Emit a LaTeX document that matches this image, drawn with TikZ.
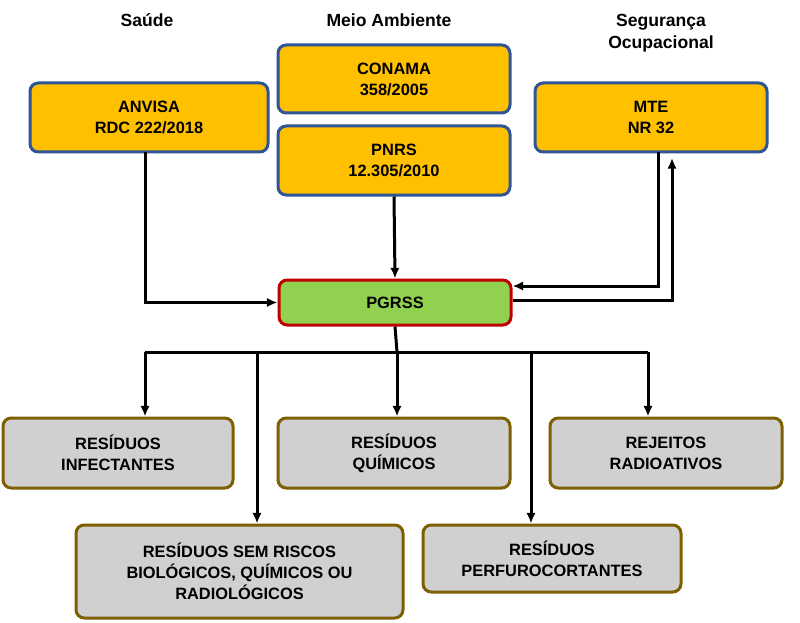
\documentclass[tikz,border=0pt]{standalone}
\usepackage{fontspec}
\setmainfont{Liberation Sans}
\usetikzlibrary{arrows.meta}
\definecolor{ouro}{HTML}{FFC000}
\definecolor{azul}{HTML}{2F5597}
\definecolor{verde}{HTML}{92D050}
\definecolor{vermelho}{HTML}{C00000}
\definecolor{cinza}{HTML}{D0D0D0}
\definecolor{oliva}{HTML}{7F6000}
\tikzset{
  base/.style={rounded corners=7pt,line width=0.9mm,align=center,font=\fontsize{14}{18}\selectfont\bfseries,inner sep=0pt},
  lei/.style={base,draw=azul,fill=ouro},
  plano/.style={base,draw=vermelho,fill=verde},
  tipo/.style={base,draw=oliva,fill=cinza},
  seta/.style={line width=0.9mm,-{Latex[length=3.2mm,width=2.8mm]}},
  linha/.style={line width=0.9mm},
  titulo/.style={font=\fontsize{15}{19}\selectfont\bfseries,align=center}
}
\begin{document}
\begin{tikzpicture}[x=0.3mm,y=-0.3mm]
  \useasboundingbox (0,0) rectangle (800,623);

  % titulos
  \node[titulo] (tsaude) at (147,20) {Saúde};
  \node[titulo] (tmeio) at (389,20) {Meio Ambiente};
  \node[titulo] (tseg) at (661,33) {Segurança\\Ocupacional};

  % legislacao
  \node[lei,minimum width=238*0.3mm,minimum height=69*0.3mm] (anvisa) at (149,117.5) {ANVISA\\RDC 222/2018};
  \node[lei,minimum width=232*0.3mm,minimum height=68*0.3mm] (conama) at (394,79) {CONAMA\\358/2005};
  \node[lei,minimum width=232*0.3mm,minimum height=69*0.3mm] (pnrs) at (394,160.5) {PNRS\\12.305/2010};
  \node[lei,minimum width=232*0.3mm,minimum height=69*0.3mm] (mte) at (651,117.5) {MTE\\NR 32};

  \node[plano,minimum width=232*0.3mm,minimum height=45*0.3mm] (pgrss) at (395,302.5) {PGRSS};

  % tipos de residuos
  \node[tipo,minimum width=230*0.3mm,minimum height=70*0.3mm] (infect) at (118,453) {RESÍDUOS\\INFECTANTES};
  \node[tipo,minimum width=232*0.3mm,minimum height=70*0.3mm] (quim) at (394,453) {RESÍDUOS\\QUÍMICOS};
  \node[tipo,minimum width=232*0.3mm,minimum height=70*0.3mm] (rejeitos) at (666,453) {REJEITOS\\RADIOATIVOS};
  \node[tipo,minimum width=327*0.3mm,minimum height=93*0.3mm] (semrisco) at (239.5,571.5) {RESÍDUOS SEM RISCOS\\BIOLÓGICOS, QUÍMICOS OU\\RADIOLÓGICOS};
  \node[tipo,minimum width=258*0.3mm,minimum height=67*0.3mm] (perfuro) at (552,558.5) {RESÍDUOS\\PERFUROCORTANTES};

  % conexoes
  \draw[seta] (145,152) |- (pgrss.west);
  \draw[seta] (pnrs.south) -- (pgrss.north);
  \draw[seta] (658,152) |- (pgrss.east |- 0,286);
  \draw[seta] (pgrss.east |- 0,300) -| (672,158);

  \coordinate (barra) at (397,352);
  \draw[linha] (pgrss.south) -- (barra);
  \draw[linha] (145,352) -- (648,352);
  \draw[seta] (145,352) -- (infect.north -| 145,0);
  \draw[seta] (257,352) -- (semrisco.north -| 257,0);
  \draw[seta] (397,352) -- (quim.north -| 397,0);
  \draw[seta] (531,352) -- (perfuro.north -| 531,0);
  \draw[seta] (648,352) -- (rejeitos.north -| 648,0);
\end{tikzpicture}
\end{document}
